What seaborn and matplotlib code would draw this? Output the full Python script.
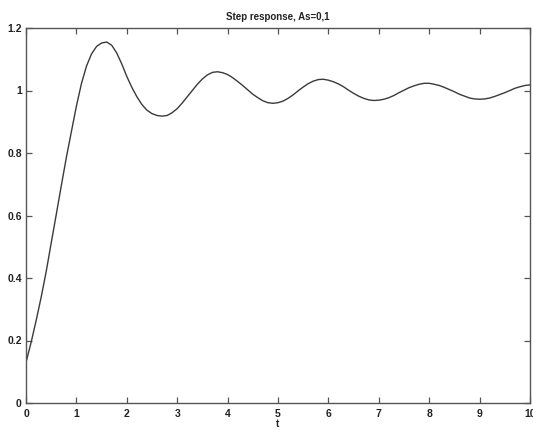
import numpy as np
import pandas as pd
import matplotlib
matplotlib.use("Agg")
import matplotlib.pyplot as plt
import seaborn as sns

# Time axis (s), read at 0.1 s steps
t_values = [round(0.1 * i, 1) for i in range(101)]

# Step response
response = [
    0.130, 0.193, 0.263, 0.338, 0.420, 0.512, 0.603, 0.695, 0.785, 0.868,
    0.950, 1.022, 1.078, 1.117, 1.141, 1.152, 1.155, 1.145, 1.120, 1.085,
    1.045, 1.010, 0.980, 0.955, 0.937, 0.926, 0.920, 0.918, 0.920, 0.929,
    0.942, 0.960, 0.980, 1.000, 1.020, 1.037, 1.050, 1.058, 1.060, 1.057,
    1.051, 1.041, 1.029, 1.016, 1.002, 0.988, 0.977, 0.967, 0.961, 0.959,
    0.961, 0.966, 0.975, 0.986, 0.999, 1.011, 1.022, 1.030, 1.035, 1.036,
    1.033, 1.028, 1.021, 1.012, 1.001, 0.991, 0.982, 0.975, 0.970, 0.968,
    0.969, 0.972, 0.977, 0.984, 0.993, 1.001, 1.009, 1.015, 1.020, 1.023,
    1.023, 1.020, 1.016, 1.010, 1.003, 0.996, 0.988, 0.982, 0.976, 0.973,
    0.972, 0.973, 0.976, 0.981, 0.987, 0.993, 1.000, 1.007, 1.012, 1.016,
    1.018,
]

x_ticks = [0, 1, 2, 3, 4, 5, 6, 7, 8, 9, 10]
x_tick_labels = ["0", "1", "2", "3", "4", "5", "6", "7", "8", "9", "10"]
y_ticks = [0, 0.2, 0.4, 0.6, 0.8, 1.0, 1.2]
y_tick_labels = ["0", "0.2", "0.4", "0.6", "0.8", "1", "1.2"]

title_text = "Step response, As=0,1"
x_label = "t"

sns.set_style("ticks")
plt.rcParams["font.family"] = ["Liberation Sans", "DejaVu Sans"]

df = pd.DataFrame({"t": t_values, "y": response})

fig = plt.figure(figsize=(5.33, 4.30), dpi=100)
ax = fig.add_axes([26 / 533, 1 - 403 / 430, (530 - 26) / 533, (403 - 28) / 430])

sns.lineplot(data=df, x="t", y="y", ax=ax, color="#3a3a3a", linewidth=1.0)

ax.set_xlim(0, 10)
ax.set_ylim(0, 1.2)
ax.set_xticks(x_ticks)
ax.set_xticklabels(x_tick_labels)
ax.set_yticks(y_ticks)
ax.set_yticklabels(y_tick_labels)

for s in ax.spines.values():
    s.set_visible(True)
    s.set_color("#555555")
    s.set_linewidth(1.0)

ax.tick_params(direction="in", length=4, width=0.9, color="#555555",
               top=True, right=True, labelsize=7.5, labelcolor="#222222")
ax.tick_params(axis="x", pad=4)
ax.tick_params(axis="y", pad=3)
for lab in ax.get_xticklabels() + ax.get_yticklabels():
    lab.set_fontweight("bold")

ax.set_title(title_text, fontsize=7, fontweight="bold", color="#222222", pad=6)
ax.set_xlabel(x_label, fontsize=7, fontweight="bold", color="#222222", labelpad=0)
ax.set_ylabel("")

fig.savefig("out.png", dpi=100)
